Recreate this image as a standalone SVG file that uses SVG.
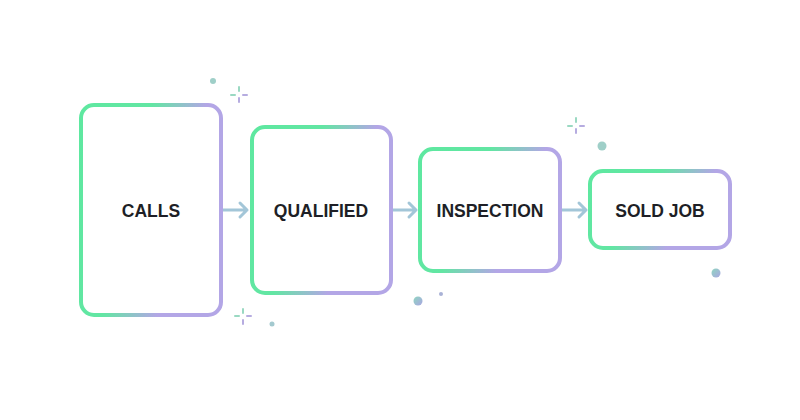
<svg xmlns="http://www.w3.org/2000/svg" width="800" height="420" viewBox="0 0 800 420">
<defs>
<linearGradient id="bg" x1="0" y1="0" x2="1" y2="0.35">
<stop offset="0" stop-color="#5ee8a0"/>
<stop offset="0.45" stop-color="#62e6a3"/>
<stop offset="0.8" stop-color="#b3a6e6"/>
<stop offset="1" stop-color="#b3a6e6"/>
</linearGradient>
<linearGradient id="ag" x1="0" y1="0" x2="1" y2="0">
<stop offset="0" stop-color="#9ed3cc"/>
<stop offset="1" stop-color="#aab0e2"/>
</linearGradient>
<linearGradient id="dg" x1="0" y1="0" x2="1" y2="1">
<stop offset="0" stop-color="#8fd6c0"/>
<stop offset="1" stop-color="#aaa6e2"/>
</linearGradient>
<style>
.box{fill:#ffffff;stroke:url(#bg);stroke-width:4}
.lbl{font-family:"Liberation Sans",Arial,sans-serif;font-weight:bold;font-size:17.5px;fill:#1e1f26;text-anchor:middle}
.arr{fill:none;stroke:#a3c6d8;stroke-width:3;stroke-linecap:round;stroke-linejoin:round}
.sg{stroke:#9ad9c2;stroke-width:2;stroke-linecap:round}
.sp{stroke:#b6ace0;stroke-width:2;stroke-linecap:round}
.dot{fill:url(#dg)}
</style>
</defs>
<rect width="800" height="420" fill="#ffffff"/>
<g id="decor">
<circle cx="213" cy="81" r="3" fill="#9fcfc8"/>
<line class="sg" x1="239" y1="87" x2="239" y2="91"/>
<line class="sp" x1="239" y1="98" x2="239" y2="102"/>
<line class="sg" x1="231" y1="95" x2="235" y2="95"/>
<line class="sp" x1="243" y1="95" x2="247" y2="95"/>
<line class="sg" x1="243" y1="309" x2="243" y2="313"/>
<line class="sp" x1="243" y1="320" x2="243" y2="324"/>
<line class="sg" x1="235" y1="316" x2="239" y2="316"/>
<line class="sp" x1="247" y1="316" x2="251" y2="316"/>
<circle cx="272" cy="324" r="2.5" fill="#a3c9cf"/>
<circle cx="418" cy="301" r="4.5" class="dot"/>
<circle cx="441" cy="294" r="2" fill="#a9b2d6"/>
<line class="sg" x1="576" y1="118" x2="576" y2="122"/>
<line class="sp" x1="576" y1="129" x2="576" y2="133"/>
<line class="sg" x1="568" y1="126" x2="572" y2="126"/>
<line class="sp" x1="580" y1="126" x2="584" y2="126"/>
<circle cx="602" cy="146" r="4.5" fill="#9fcfc8"/>
<circle cx="716" cy="273" r="4.5" class="dot"/>
</g>
<g id="connectors">
<path class="arr" d="M223 210 H247 M240 203 L247 210 L240 217"/>
<path class="arr" d="M393 210 H416 M409 203 L416 210 L409 217"/>
<path class="arr" d="M562 210 H586 M579 203 L586 210 L579 217"/>
</g>
<g id="calls">
<rect class="box" x="81" y="105" width="140" height="210" rx="13"/>
<text class="lbl" x="151" y="217">CALLS</text>
</g>
<g id="qualified">
<rect class="box" x="252" y="127" width="139" height="166" rx="13"/>
<text class="lbl" x="321" y="217">QUALIFIED</text>
</g>
<g id="inspection">
<rect class="box" x="420" y="149" width="140" height="122" rx="13"/>
<text class="lbl" x="490" y="217">INSPECTION</text>
</g>
<g id="sold-job">
<rect class="box" x="590" y="171" width="140" height="77" rx="13"/>
<text class="lbl" x="660" y="217">SOLD JOB</text>
</g>
</svg>
